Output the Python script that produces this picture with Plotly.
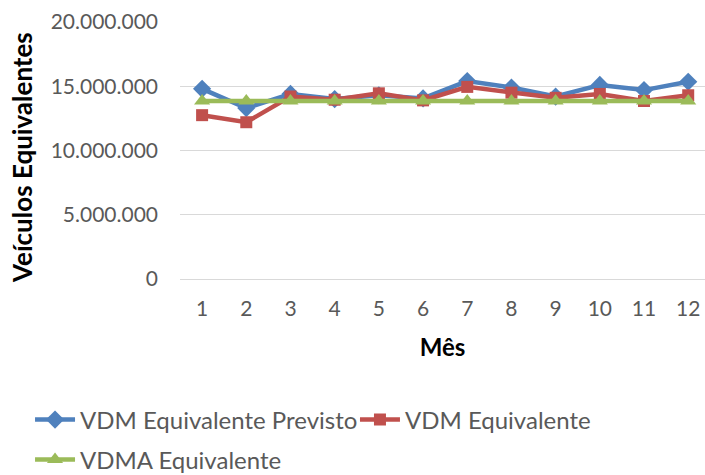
import plotly.graph_objects as go

months = [str(i) for i in range(1, 13)]
vdm_previsto = [14.8e6, 13.3e6, 14.4e6, 14.0e6, 14.3e6, 14.05e6, 15.4e6, 14.9e6, 14.2e6, 15.1e6, 14.7e6, 15.35e6]
vdm_equiv = [12.75e6, 12.2e6, 14.2e6, 13.95e6, 14.45e6, 13.9e6, 14.95e6, 14.5e6, 14.1e6, 14.4e6, 13.85e6, 14.3e6]
vdma_equiv = [13.85e6] * 12

y_ticks = [0, 5e6, 10e6, 15e6, 20e6]

FONT = "Lato, Carlito, Liberation Sans, sans-serif"
GREY = "#595959"

fig = go.Figure()
fig.add_trace(go.Scatter(x=months, y=vdm_previsto, name="VDM Equivalente Previsto",
                         mode="lines+markers", line=dict(color="#4F81BD", width=4.5),
                         marker=dict(symbol="diamond", size=14, color="#4F81BD"),
                         legend="legend", showlegend=True))
fig.add_trace(go.Scatter(x=months, y=vdm_equiv, name="VDM Equivalente",
                         mode="lines+markers", line=dict(color="#C0504D", width=4.5),
                         marker=dict(symbol="square", size=12, color="#C0504D"),
                         legend="legend2", showlegend=True))
fig.add_trace(go.Scatter(x=months, y=vdma_equiv, name="VDMA Equivalente",
                         mode="lines+markers", line=dict(color="#9BBB59", width=4.5),
                         marker=dict(symbol="triangle-up", size=14, color="#9BBB59"),
                         legend="legend3", showlegend=True))

leg = dict(orientation="h", xref="container", yref="container", xanchor="left", yanchor="middle",
           font=dict(size=24, color=GREY), itemwidth=40, bgcolor="rgba(0,0,0,0)", visible=True)

fig.update_layout(
    width=705, height=475,
    showlegend=True,
    margin=dict(l=180, r=0, t=22, b=196, autoexpand=False),
    paper_bgcolor="white", plot_bgcolor="white",
    separators=",.",
    font=dict(family=FONT, size=21, color=GREY),
    xaxis=dict(type="category", range=[-0.5, 11.38], showgrid=False, showline=False,
               zeroline=False, ticks="", ticklabelstandoff=15, automargin=False,
               tickfont=dict(size=21, color=GREY),
               title=dict(text="<b>Mês</b>", font=dict(size=24, color="black"), standoff=20)),
    yaxis=dict(range=[0, 20e6], tickvals=y_ticks, tickformat=",d", showgrid=True,
               gridcolor="#D9D9D9", gridwidth=1, zeroline=True, zerolinecolor="#D9D9D9",
               zerolinewidth=1, showline=False, ticks="", ticklabelstandoff=21, automargin=False,
               tickfont=dict(size=21, color=GREY)),
    legend=dict(leg, x=0.0426, y=0.1158),
    legend2=dict(leg, x=0.5035, y=0.1158),
    legend3=dict(leg, x=0.0426, y=0.032),
    annotations=[dict(text="<b>Veículos Equivalentes</b>", textangle=-90, xref="paper", yref="paper",
                      x=-0.301, y=0.475, xanchor="center", yanchor="middle", showarrow=False,
                      font=dict(size=26, color="black"))],
)

fig.write_html("out.html", config={"displayModeBar": False},
               post_script="document.body.style.margin='0px';")
